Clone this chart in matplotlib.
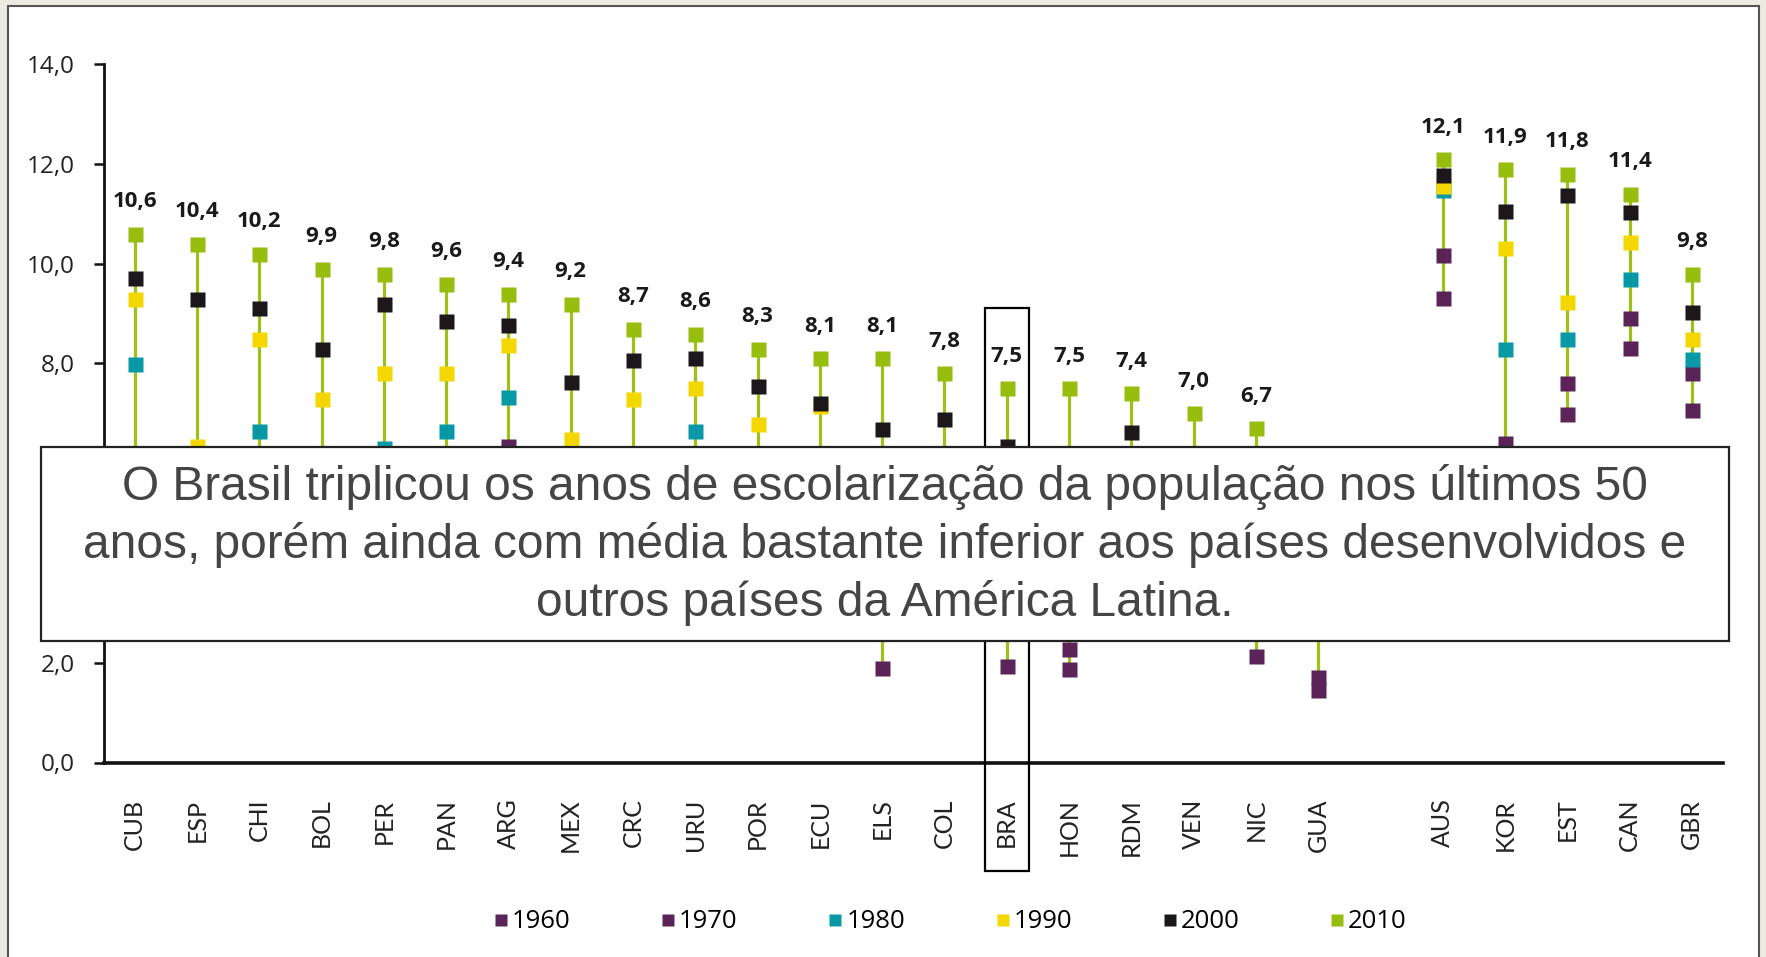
import numpy as np
import matplotlib.pyplot as plt
from matplotlib.patches import Rectangle
from matplotlib.lines import Line2D

# Anos médios de escolaridade por país (valores lidos do gráfico;
# os que ficam escondidos atrás da caixa de texto são estimativas).
countries = ['CUB', 'ESP', 'CHI', 'BOL', 'PER', 'PAN', 'ARG', 'MEX', 'CRC', 'URU',
             'POR', 'ECU', 'ELS', 'COL', 'BRA', 'HON', 'RDM', 'VEN', 'NIC', 'GUA',
             'AUS', 'KOR', 'EST', 'CAN', 'GBR']
years = ['1960', '1970', '1980', '1990', '2000', '2010']

y1960 = [4.3, 4.3, 4.8, 3.4, 3.8, 4.2, 5.6, 2.8, 4.0, 5.2,
         2.7, 3.4, 1.89, 3.0, 1.94, 1.88, 2.8, 2.9, 2.13, 1.46,
         9.31, 4.5, 6.98, 8.31, 7.07]
y1970 = [4.9, 4.8, 5.4, 3.9, 4.6, 5.0, 6.35, 3.6, 4.8, 5.8,
         3.3, 4.1, 2.7, 3.7, 2.9, 2.28, 3.1, 3.8, 2.9, 1.72,
         10.18, 6.40, 7.61, 8.91, 7.81]
y1980 = [7.98, 5.6, 6.64, 5.0, 6.3, 6.65, 7.32, 4.8, 6.0, 6.65,
         4.9, 5.3, 3.9, 4.9, 3.6, 3.7, 4.5, 5.0, 3.6, 2.6,
         11.47, 8.29, 8.50, 9.70, 8.09]
y1990 = [9.30, 6.35, 8.49, 7.28, 7.81, 7.81, 8.38, 6.48, 7.28, 7.51,
         6.78, 7.15, 5.6, 6.0, 4.9, 4.6, 5.9, 5.8, 4.5, 3.0,
         11.55, 10.31, 9.24, 10.44, 8.49]
y2000 = [9.72, 9.30, 9.12, 8.29, 9.19, 8.85, 8.77, 7.63, 8.07, 8.11,
         7.54, 7.21, 6.68, 6.88, 6.35, 5.9, 6.62, 6.1, 5.6, 3.6,
         11.77, 11.06, 11.37, 11.04, 9.04]
y2010 = [10.6, 10.4, 10.2, 9.9, 9.8, 9.6, 9.4, 9.2, 8.7, 8.6,
         8.3, 8.1, 8.1, 7.8, 7.5, 7.5, 7.4, 7.0, 6.7, 4.1,
         12.1, 11.9, 11.8, 11.4, 9.8]

colors = ['#5a2459', '#5a2459', '#0898a6', '#f5d700', '#1b171a', '#97bd0f']
stem_color = '#9cc21a'

note = ("O Brasil triplicou os anos de escolarização da população nos últimos 50\n"
        "anos, porém ainda com média bastante inferior aos países desenvolvidos e\n"
        "outros países da América Latina.")

series = [y1960, y1970, y1980, y1990, y2000, y2010]
vals = np.array(series, dtype=float)
# América Latina nas posições 0..19, uma vaga vazia, depois os desenvolvidos
x = np.r_[np.arange(20), np.arange(21, 26)]

W, H = 1766, 957
fig = plt.figure(figsize=(W / 100, H / 100), dpi=100, facecolor='#ecebe1')

# painel branco com moldura cinza
panel = Rectangle((8 / W, -0.02), (1759 - 8) / W, 1.02 - 6 / H,
                  transform=fig.transFigure, facecolor='white',
                  edgecolor='#555555', lw=1.5, zorder=-10)
fig.add_artist(panel)

ax = fig.add_axes([103.6 / W, 1 - 762.5 / H, (1723 - 103.6) / W, (762.5 - 64.2) / H])
ax.patch.set_visible(False)
ax.set_xlim(-0.5, 25.5)
ax.set_ylim(0, 14)

ax.vlines(x, np.nanmin(vals, axis=0), np.nanmax(vals, axis=0),
          color=stem_color, lw=2.3, zorder=2)
for i, (yr, v) in enumerate(zip(years, series)):
    ax.plot(x, v, ls='none', marker='s', ms=10.8, mec='none',
            color=colors[i], zorder=3 + i, clip_on=False)

# rótulos do valor de 2010 (o da GUA fica escondido pela caixa no original)
for xi, v in zip(x, y2010):
    if v < 6.5:
        continue
    ax.annotate(f'{v:.1f}'.replace('.', ','), (xi, v), xytext=(0, 23),
                textcoords='offset points', ha='center', va='center',
                fontsize=16, fontweight='bold', family='Open Sans', color='#1a1a1a')

# destaque do Brasil
bra = x[countries.index('BRA')]
ax.add_patch(Rectangle((bra - 0.355, -2.17), 0.71, 9.12 + 2.17, fill=False,
                       ec='black', lw=1.6, clip_on=False, zorder=9))

for side in ('top', 'right'):
    ax.spines[side].set_visible(False)
ax.spines['left'].set_linewidth(2)
ax.spines['bottom'].set_linewidth(2.6)
ax.spines['left'].set_color('#111')
ax.spines['bottom'].set_color('#111')

yt = np.arange(0, 15, 2)
ax.set_yticks(yt)
ax.set_yticklabels([f'{t:.1f}'.replace('.', ',') for t in yt],
                   family='Open Sans', fontsize=17.5, color='#222')
ax.tick_params(axis='y', direction='out', length=7, width=1.8, pad=14, color='#111')

ax.set_xticks(x)
ax.set_xticklabels(countries, rotation=90, ha='center', va='top',
                   family='Lato', fontsize=18, color='#222')
ax.tick_params(axis='x', length=0, pad=26)

handles = [Line2D([], [], ls='none', marker='s', ms=8, mec='none', color=c) for c in colors]
fig.legend(handles, years, loc='center', bbox_to_anchor=(950 / W, 1 - 922 / H),
           ncol=6, frameon=False, handlelength=0.6, handletextpad=0.12,
           columnspacing=3.5, prop={'family': 'Open Sans', 'size': 18.5})

# caixa de texto sobre o gráfico
box = Rectangle((40.5 / W, 1 - 641 / H), (1729 - 40.5) / W, (641 - 447) / H,
                transform=fig.transFigure, facecolor='white', edgecolor='#222',
                lw=1.6, zorder=10)
fig.add_artist(box)
fig.text(885 / W, 1 - 545 / H, note, ha='center', va='center', multialignment='center',
         fontsize=34.5, color='#454545', family='Liberation Sans', linespacing=1.33,
         zorder=11)

fig.savefig('out.png', dpi=100, facecolor=fig.get_facecolor())
